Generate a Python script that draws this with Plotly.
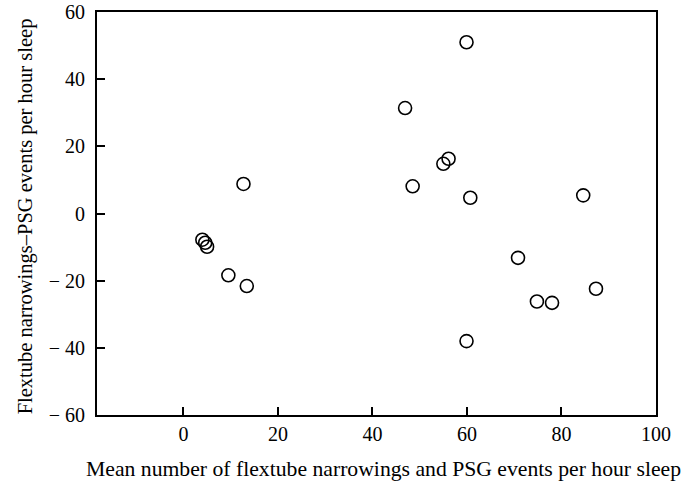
import plotly.graph_objects as go

# Data
mean_events = [59.9, 46.9, 56.1, 55.0, 48.5, 60.7, 84.6, 70.8, 87.3, 74.8, 78.0, 59.9,
               12.7, 4.0, 4.6, 5.0, 9.5, 13.4]
difference = [51.0, 31.4, 16.3, 14.8, 8.1, 4.7, 5.4, -13.2, -22.4, -26.2, -26.6, -38.0,
              8.8, -7.8, -8.7, -9.9, -18.4, -21.6]

x_ticks = [0, 20, 40, 60, 80, 100]
x_ticktext = ["0", "20", "40", "60", "80", "100"]
y_ticks = [-60, -40, -20, 0, 20, 40, 60]
y_ticktext = ["\u2212 60", "\u2212 40", "\u2212 20", "0", "20", "40", "60"]

x_title = "Mean number of flextube narrowings and PSG events per hour sleep"
y_title = "Flextube narrowings\u2013PSG events per hour sleep"

FONT = "Liberation Serif, Times New Roman, serif"

fig = go.Figure()
fig.add_trace(go.Scatter(
    x=mean_events, y=difference, mode="markers",
    marker=dict(symbol="circle-open", size=13, color="black", line=dict(width=1.6, color="black")),
    showlegend=False, hoverinfo="x+y",
))

fig.update_layout(
    width=682, height=483,
    margin=dict(l=97, r=26, t=12, b=68),
    paper_bgcolor="white", plot_bgcolor="white",
    font=dict(family=FONT, size=20, color="black"),
    xaxis=dict(
        range=[-18.3, 100], tickvals=x_ticks, ticktext=x_ticktext,
        ticks="inside", ticklen=8, tickwidth=1.5, tickcolor="black",
        showline=True, linecolor="black", linewidth=2, mirror=True,
        showgrid=False, zeroline=False, tickfont=dict(size=20, family=FONT),
        ticklabelstandoff=0, automargin=False,
    ),
    yaxis=dict(
        range=[-60, 60], tickvals=y_ticks, ticktext=y_ticktext,
        ticks="inside", ticklen=8, tickwidth=1.5, tickcolor="black",
        showline=True, linecolor="black", linewidth=2, mirror=True,
        showgrid=False, zeroline=False, tickfont=dict(size=20, family=FONT),
        ticklabelstandoff=6, automargin=False,
    ),
    annotations=[
        dict(text=x_title, xref="paper", yref="paper", x=0.513, y=0, yshift=-54,
             xanchor="center", yanchor="middle", showarrow=False,
             font=dict(size=21.7, family=FONT)),
        dict(text=y_title, xref="paper", yref="paper", x=0, xshift=-72, y=0.493,
             xanchor="center", yanchor="middle", textangle=-90, showarrow=False,
             font=dict(size=20.5, family=FONT)),
    ],
)

fig.write_html("out.html")
